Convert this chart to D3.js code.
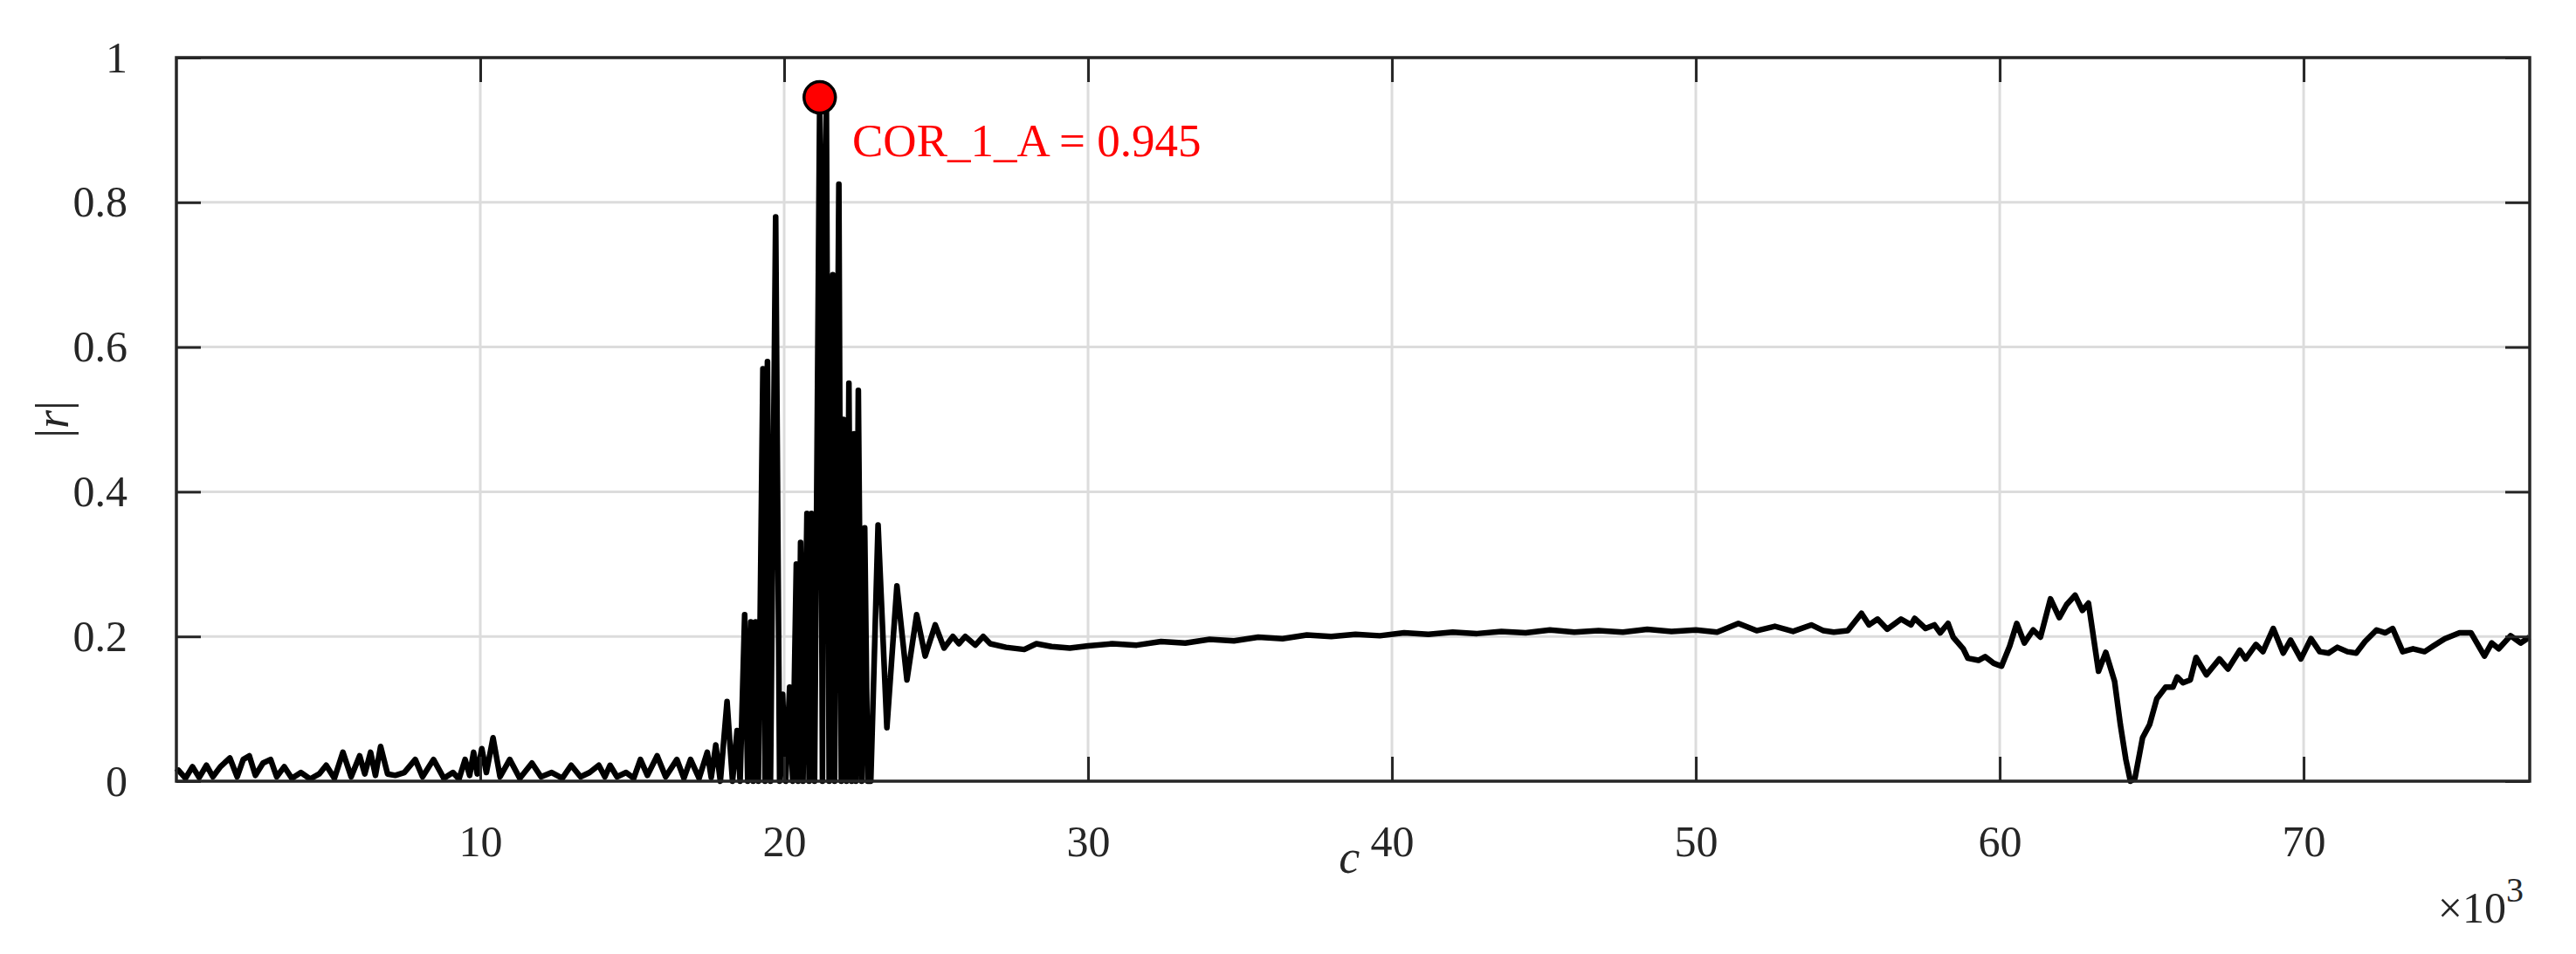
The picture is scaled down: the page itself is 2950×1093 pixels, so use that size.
<!DOCTYPE html>
<html>
<head>
<meta charset="utf-8">
<script src="https://cdn.jsdelivr.net/npm/d3@7"></script>
<style>
  body { margin: 0; background: #fff; }
  text { font-family: "Liberation Serif", "Times New Roman", serif; fill: #262626; }
</style>
</head>
<body>
<svg id="chart" width="2950" height="1093"></svg>
<script>
// lag c (x1000) and |r|
const lowC = [0.0, 0.07, 0.3, 0.53, 0.75, 0.99, 1.2, 1.45, 1.76, 2.0, 2.2, 2.4, 2.6, 2.85, 3.1, 3.3, 3.55, 3.8, 4.1, 4.4, 4.7, 4.93, 5.2, 5.48, 5.75, 6.03, 6.2, 6.39, 6.55, 6.72, 6.95, 7.2, 7.5, 7.86, 8.1, 8.46, 8.8, 9.1, 9.3, 9.5, 9.65, 9.78, 9.9, 10.05, 10.2, 10.42, 10.65, 10.97, 11.3, 11.7, 12.0, 12.35, 12.7, 12.99, 13.3, 13.6, 13.9, 14.1, 14.27, 14.5, 14.8, 15.05, 15.27, 15.5, 15.82, 16.1, 16.47, 16.7, 16.92, 17.2, 17.47];
const lowR = [0.012, 0.015, 0.004, 0.02, 0.005, 0.022, 0.006, 0.02, 0.032, 0.006, 0.03, 0.035, 0.008, 0.025, 0.03, 0.006, 0.02, 0.004, 0.012, 0.003, 0.01, 0.022, 0.004, 0.04, 0.006, 0.035, 0.01, 0.04, 0.008, 0.048, 0.01, 0.008, 0.012, 0.03, 0.006, 0.03, 0.004, 0.012, 0.003, 0.03, 0.008, 0.04, 0.01, 0.045, 0.012, 0.06, 0.006, 0.03, 0.004, 0.025, 0.006, 0.012, 0.004, 0.022, 0.006, 0.012, 0.022, 0.006, 0.022, 0.006, 0.012, 0.004, 0.03, 0.008, 0.035, 0.006, 0.03, 0.004, 0.03, 0.004, 0.04];
const peakC = [17.6, 17.75, 17.9, 18.12, 18.3, 18.45, 18.55, 18.7, 18.8, 18.9, 18.98, 19.06, 19.15, 19.3, 19.37, 19.45, 19.55, 19.72, 19.85, 19.95, 20.05, 20.18, 20.28, 20.4, 20.46, 20.54, 20.62, 20.75, 20.82, 20.9, 21.0, 21.17, 21.26, 21.32, 21.39, 21.48, 21.6, 21.66, 21.8, 21.88, 21.95, 22.05, 22.13, 22.22, 22.3, 22.36, 22.44, 22.55, 22.65, 22.75, 22.85, 23.09, 23.38, 23.71, 24.04, 24.36, 24.64, 24.97, 25.26, 25.55, 25.75, 25.96, 26.29, 26.55, 26.78, 27.3, 27.9, 28.3, 28.8, 29.4];
const peakR = [0.005, 0.05, 0.0, 0.11, 0.0, 0.07, 0.0, 0.23, 0.0, 0.22, 0.0, 0.22, 0.0, 0.57, 0.0, 0.58, 0.0, 0.78, 0.0, 0.12, 0.0, 0.13, 0.0, 0.3, 0.0, 0.33, 0.0, 0.37, 0.0, 0.37, 0.0, 0.945, 0.0, 0.8, 0.93, 0.0, 0.7, 0.0, 0.825, 0.0, 0.5, 0.0, 0.55, 0.0, 0.48, 0.0, 0.54, 0.0, 0.35, 0.0, 0.0, 0.354, 0.074, 0.27, 0.14, 0.23, 0.173, 0.216, 0.184, 0.2, 0.19, 0.2, 0.188, 0.2, 0.19, 0.185, 0.182, 0.19, 0.186, 0.184];
const midC = [30.0, 30.8, 31.6, 32.4, 33.2, 34.0, 34.8, 35.6, 36.4, 37.2, 38.0, 38.8, 39.6, 40.4, 41.2, 42.0, 42.8, 43.6, 44.4, 45.2, 46.0, 46.8, 47.6, 48.4, 49.2, 50.0, 50.7, 51.4, 52.0, 52.6, 53.2, 53.8, 54.2];
const midR = [0.187, 0.19, 0.188, 0.193, 0.191, 0.196, 0.194, 0.199, 0.197, 0.202, 0.2, 0.203, 0.201, 0.205, 0.203, 0.206, 0.204, 0.207, 0.205, 0.209, 0.206, 0.208, 0.206, 0.21, 0.207, 0.209, 0.206, 0.218, 0.208, 0.214, 0.207, 0.216, 0.208];
const tailC = [54.54, 55.0, 55.45, 55.7, 55.98, 56.3, 56.75, 57.08, 57.2, 57.56, 57.85, 58.04, 58.3, 58.47, 58.8, 58.95, 59.3, 59.52, 59.8, 60.06, 60.33, 60.56, 60.81, 61.1, 61.34, 61.67, 61.96, 62.2, 62.48, 62.72, 62.92, 63.25, 63.49, 63.78, 63.97, 64.15, 64.3, 64.45, 64.7, 64.93, 65.17, 65.46, 65.7, 65.84, 66.03, 66.27, 66.46, 66.8, 67.23, 67.51, 67.9, 68.09, 68.43, 68.66, 69.0, 69.33, 69.57, 69.91, 70.24, 70.53, 70.82, 71.11, 71.44, 71.73, 72.02, 72.4, 72.69, 72.93, 73.26, 73.6, 73.98, 74.27, 74.65, 75.13, 75.51, 75.95, 76.19, 76.42, 76.81, 77.14, 77.43];
const tailR = [0.206, 0.208, 0.232, 0.216, 0.224, 0.21, 0.224, 0.216, 0.225, 0.211, 0.216, 0.205, 0.218, 0.199, 0.183, 0.17, 0.167, 0.172, 0.163, 0.159, 0.187, 0.218, 0.191, 0.209, 0.199, 0.252, 0.226, 0.244, 0.257, 0.236, 0.246, 0.152, 0.178, 0.138, 0.078, 0.03, 0.0, 0.004, 0.06, 0.078, 0.114, 0.13, 0.13, 0.144, 0.136, 0.14, 0.171, 0.147, 0.169, 0.155, 0.181, 0.169, 0.189, 0.179, 0.211, 0.177, 0.195, 0.169, 0.197, 0.179, 0.177, 0.185, 0.179, 0.177, 0.193, 0.209, 0.205, 0.211, 0.179, 0.183, 0.179, 0.187, 0.197, 0.205, 0.205, 0.173, 0.191, 0.183, 0.201, 0.191, 0.199];

const xTicks = [10, 20, 30, 40, 50, 60, 70];
const yTicks = [0, 0.2, 0.4, 0.6, 0.8, 1];
const peakPoint = { c: 21.17, r: 0.945, label: 'COR_1_A = 0.945' };

const series = [];
[[lowC, lowR], [peakC, peakR], [midC, midR], [tailC, tailR]].forEach(([cs, rs]) => {
  cs.forEach((c, i) => series.push({ c: c, r: rs[i] }));
});

const svg = d3.select('#chart');
const plotLeft = 202, plotRight = 2897, plotTop = 66, plotBottom = 895;
const axisColor = '#262626', gridColor = '#dcdcdc', tickLen = 28;

const x = d3.scaleLinear().domain([0, 77.44]).range([plotLeft, plotRight]);
const y = d3.scaleLinear().domain([0, 1]).range([plotBottom, plotTop]);

// grid
svg.append('g').selectAll('line').data(xTicks).join('line')
  .attr('x1', d => x(d)).attr('x2', d => x(d)).attr('y1', plotTop).attr('y2', plotBottom)
  .attr('stroke', gridColor).attr('stroke-width', 3);
svg.append('g').selectAll('line').data(yTicks).join('line')
  .attr('x1', plotLeft).attr('x2', plotRight).attr('y1', d => y(d)).attr('y2', d => y(d))
  .attr('stroke', gridColor).attr('stroke-width', 3);

// data line
const line = d3.line().x(d => x(d.c)).y(d => y(d.r));
svg.append('path').datum(series)
  .attr('d', line).attr('fill', 'none').attr('stroke', '#000')
  .attr('stroke-width', 6.5).attr('stroke-linejoin', 'round');

// axes: box with inward ticks on all sides
const xAxisB = d3.axisBottom(x).tickValues(xTicks).tickSizeInner(-tickLen).tickSizeOuter(0).tickPadding(tickLen + 22);
const xAxisT = d3.axisTop(x).tickValues(xTicks).tickSizeInner(-tickLen).tickSizeOuter(0).tickFormat('');
const yAxisL = d3.axisLeft(y).tickValues(yTicks).tickSizeInner(-tickLen).tickSizeOuter(0).tickPadding(tickLen + 28).tickFormat(d3.format('~g'));
const yAxisR = d3.axisRight(y).tickValues(yTicks).tickSizeInner(-tickLen).tickSizeOuter(0).tickFormat('');

function styleAxis(g) {
  g.select('.domain').remove();
  g.selectAll('.tick line').attr('stroke', axisColor).attr('stroke-width', 3);
  g.selectAll('.tick text').attr('font-family', '"Liberation Serif", serif')
    .attr('font-size', 50).attr('fill', axisColor);
}
svg.append('g').attr('transform', `translate(0,${plotBottom})`).call(xAxisB).call(styleAxis);
svg.append('g').attr('transform', `translate(0,${plotTop})`).call(xAxisT).call(styleAxis);
svg.append('g').attr('transform', `translate(${plotLeft},0)`).call(yAxisL).call(styleAxis);
svg.append('g').attr('transform', `translate(${plotRight},0)`).call(yAxisR).call(styleAxis);

svg.append('rect').attr('x', plotLeft).attr('y', plotTop)
  .attr('width', plotRight - plotLeft).attr('height', plotBottom - plotTop)
  .attr('fill', 'none').attr('stroke', axisColor).attr('stroke-width', 3.5);

// labels
svg.append('text').attr('x', x(38.6)).attr('y', 1000).attr('text-anchor', 'middle')
  .attr('font-size', 54).attr('font-style', 'italic').text('c');
svg.append('text').attr('transform', `translate(78,${(plotTop + plotBottom) / 2}) rotate(-90)`)
  .attr('text-anchor', 'middle').attr('font-size', 54)
  .html('|<tspan font-style="italic">r</tspan>|');
const mult = svg.append('text').attr('x', 2890).attr('y', 1057).attr('text-anchor', 'end').attr('font-size', 50);
mult.append('tspan').text('×10');
mult.append('tspan').attr('dy', -24).attr('font-size', 40).text('3');

// peak marker and annotation
svg.append('circle').attr('cx', x(peakPoint.c)).attr('cy', y(peakPoint.r)).attr('r', 18)
  .attr('fill', '#ff0000').attr('stroke', '#000').attr('stroke-width', 3.5);
svg.append('text').attr('x', 976).attr('y', 179)
  .attr('font-family', '"Liberation Sans", Arial, sans-serif').attr('font-size', 53)
  .style('fill', '#ff0000').text(peakPoint.label);
</script>
</body>
</html>
